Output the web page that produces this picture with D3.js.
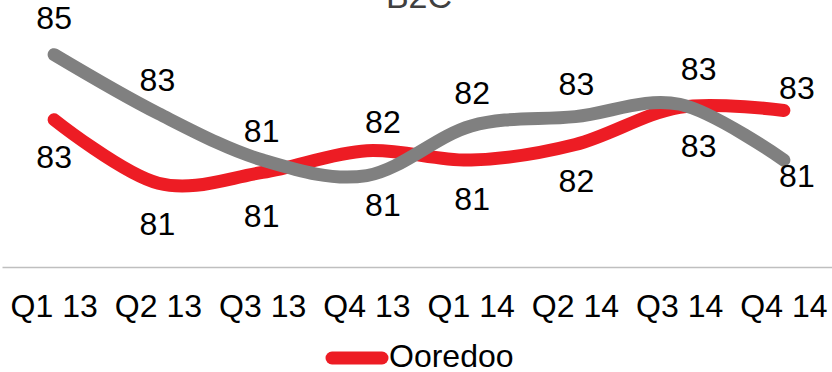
<!DOCTYPE html>
<html>
<head>
<meta charset="utf-8">
<script src="https://cdn.jsdelivr.net/npm/d3@7"></script>
<style>
  html, body { margin: 0; padding: 0; background: #fff; }
  svg { display: block; font-family: "Liberation Sans", Arial, sans-serif; }
</style>
</head>
<body>
<svg id="chart" width="832" height="372"></svg>
<script>
// Quarterly B2C satisfaction scores
const quarters = ["Q1 13", "Q2 13", "Q3 13", "Q4 13", "Q1 14", "Q2 14", "Q3 14", "Q4 14"];
const ooredoo = [82.6, 80.55, 80.9, 81.6, 81.3, 81.8, 83.0, 82.9];
const benchmark = [84.7, 82.8, 81.3, 80.8, 82.4, 82.7, 83.1, 81.3];
const legendLabels = ["Ooredoo"];
const titleText = "B2C";

// Layout: hand-placed label nudges (pixels) so labels clear the lines
const labelDx = [0, -1, -1, 16, 1, 1, 19, 13];
const benchmarkLabelDy = [-3, 0, 5, -10, 1, 1, -1, -23];
const ooredooLabelDy = [-2, 2, 5, 5, 0, -3, 0, 12];

const axisY = 267;
const svg = d3.select("#chart");

const x = d3.scaleBand().domain(quarters).range([2, 836]).paddingInner(0).paddingOuter(0);
const cx = q => x(q) + x.bandwidth() / 2;
const y = d3.scaleLinear().domain([77.85, 85.85]).range([axisY, 19]);

// Title (partly above the top edge)
svg.append("text")
  .attr("x", 419).attr("y", 8)
  .attr("text-anchor", "middle")
  .attr("font-size", 34)
  .attr("fill", "#404040")
  .text(titleText);

// Category axis
const xAxis = svg.append("g")
  .attr("transform", `translate(0,${axisY})`)
  .call(d3.axisBottom(x).tickSize(0).tickSizeOuter(0));
xAxis.select(".domain").attr("stroke", "#bfbfbf").attr("stroke-width", 1.5);
xAxis.selectAll("text")
  .attr("y", 27)
  .attr("font-size", 32)
  .attr("font-family", "Liberation Sans, Arial, sans-serif")
  .attr("fill", "#000");

const line = d3.line()
  .x((d, i) => cx(quarters[i]))
  .y(d => y(d))
  .curve(d3.curveCardinal.tension(0));

const series = [
  { name: "benchmark", values: benchmark, color: "#808080", dy: benchmarkLabelDy },
  { name: "Ooredoo", values: ooredoo, color: "#ED1C24", dy: ooredooLabelDy }
];

// Red underneath, grey drawn on top where the lines cross
[series[1], series[0]].forEach(s => {
  svg.append("path")
    .datum(s.values)
    .attr("d", line)
    .attr("fill", "none")
    .attr("stroke", s.color)
    .attr("stroke-width", 13)
    .attr("stroke-linecap", "round")
    .attr("stroke-linejoin", "round");
});

// Value labels: the higher series at each quarter is labelled above, the lower below
const fmt = d3.format(".0f");
series.forEach(s => {
  const other = s === series[0] ? series[1] : series[0];
  svg.append("g").selectAll("text")
    .data(s.values)
    .join("text")
    .attr("x", (d, i) => cx(quarters[i]) + labelDx[i])
    .attr("y", (d, i) => (d >= other.values[i] ? y(d) - 23 : y(d) + 50) + s.dy[i])
    .attr("text-anchor", "middle")
    .attr("font-size", 32)
    .attr("fill", "#000")
    .text(d => fmt(d));
});

// Legend
const lg = svg.append("g");
lg.append("line")
  .attr("x1", 332).attr("x2", 382)
  .attr("y1", 358).attr("y2", 358)
  .attr("stroke", "#ED1C24")
  .attr("stroke-width", 13)
  .attr("stroke-linecap", "round");
lg.append("text")
  .attr("x", 389).attr("y", 367)
  .attr("font-size", 32)
  .attr("fill", "#000")
  .text(legendLabels[0]);
</script>
</body>
</html>
